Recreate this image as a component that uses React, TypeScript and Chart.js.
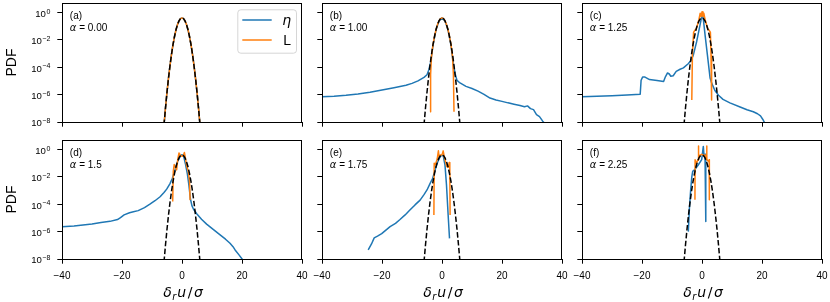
import React, { useEffect, useRef } from "react";
import { Chart, registerables } from "chart.js";
Chart.register(...registerables);

const ETA_COLOR = "#1f77b4";
const L_COLOR = "#ff7f0e";
const SANS = "'Liberation Sans', Arial, sans-serif";
const MATH = "'DejaVu Sans', sans-serif";

const xTickValues = [-40, -20, 0, 20, 40];
const xTickLabels = ["−40", "−20", "0", "20", "40"];
const yTickValues = [1e-8, 1e-6, 1e-4, 1e-2, 1];
const yTickBase = "10";
const yTickExponents = ["−8", "−6", "−4", "−2", "0"];

const panelTags = ["(a)", "(b)", "(c)", "(d)", "(e)", "(f)"];
const alphaValues = ["0.00", "1.00", "1.25", "1.5", "1.75", "2.25"];
const seriesNames = ["η", "L"];

// reference Gaussian (dashed)
const gaussX = [-6, -5.5, -5, -4.5, -4, -3.5, -3, -2.5, -2, -1.5, -1, -0.5, 0, 0.5, 1, 1.5, 2, 2.5, 3, 3.5, 4, 4.5, 5, 5.5, 6];
const gaussY = [6.1e-9, 1.08e-7, 1.49e-6, 1.6e-5, 1.34e-4, 8.73e-4, 4.43e-3, 1.75e-2, 5.4e-2, 0.13, 0.242, 0.352, 0.399, 0.352, 0.242, 0.13, 5.4e-2, 1.75e-2, 4.43e-3, 8.73e-4, 1.34e-4, 1.6e-5, 1.49e-6, 1.08e-7, 6.1e-9];

// (a) alpha = 0.00
const etaX_a = [-6, -5.5, -5, -4.5, -4, -3.5, -3, -2.5, -2, -1.5, -1, -0.5, 0, 0.5, 1, 1.5, 2, 2.5, 3, 3.5, 4, 4.5, 5, 5.5, 6];
const etaY_a = [6.1e-9, 1.1e-7, 1.5e-6, 1.6e-5, 1.34e-4, 8.7e-4, 4.4e-3, 1.75e-2, 5.4e-2, 0.13, 0.242, 0.352, 0.399, 0.352, 0.242, 0.13, 5.4e-2, 1.75e-2, 4.4e-3, 8.7e-4, 1.34e-4, 1.6e-5, 1.5e-6, 1.1e-7, 6.1e-9];
const lX_a = [-6, -5.5, -5, -4.5, -4, -3.5, -3, -2.5, -2, -1.5, -1, -0.5, 0, 0.5, 1, 1.5, 2, 2.5, 3, 3.5, 4, 4.5, 5, 5.5, 6];
const lY_a = [6.1e-9, 1.1e-7, 1.5e-6, 1.6e-5, 1.34e-4, 8.7e-4, 4.4e-3, 1.75e-2, 5.4e-2, 0.13, 0.242, 0.352, 0.399, 0.352, 0.242, 0.13, 5.4e-2, 1.75e-2, 4.4e-3, 8.7e-4, 1.34e-4, 1.6e-5, 1.5e-6, 1.1e-7, 6.1e-9];

// (b) alpha = 1.00
const etaX_b = [-40, -36, -32, -28, -24, -20, -16, -12, -10, -8, -6, -5, -4.4, -3.8, -3, -2, -1, 0, 1, 2, 3, 3.8, 4.4, 5, 6, 8, 10, 12, 14, 16, 18, 20, 22, 24, 26, 27.5, 28.5, 29.5, 30.5, 31.5, 32.5, 33.5, 34.2];
const etaY_b = [6.9e-7, 7.6e-7, 8.9e-7, 1.1e-6, 1.5e-6, 2.2e-6, 3.2e-6, 4.8e-6, 6.6e-6, 1.0e-5, 1.8e-5, 2.8e-5, 6.3e-5, 2.2e-4, 4.0e-3, 5.4e-2, 0.24, 0.4, 0.24, 5.4e-2, 4.0e-3, 1.6e-4, 3.2e-5, 1.1e-5, 7.1e-6, 4.0e-6, 2.8e-6, 1.8e-6, 1.05e-6, 5.6e-7, 4.0e-7, 3.2e-7, 2.5e-7, 2.0e-7, 1.6e-7, 1.3e-7, 1.5e-7, 9.5e-8, 8.0e-8, 3.5e-8, 2.5e-8, 1.2e-8, 8.0e-9];
const lX_b = [-4.0, -3.8, -3.5, -3, -2.5, -2, -1.5, -1, -0.5, 0, 0.5, 1, 1.5, 2, 2.5, 3, 3.5, 3.8, 4.0];
const lY_b = [5.6e-8, 3e-5, 6e-4, 4.4e-3, 1.75e-2, 5.4e-2, 0.13, 0.24, 0.35, 0.4, 0.35, 0.24, 0.13, 5.4e-2, 1.75e-2, 4.4e-3, 6e-4, 3e-5, 5.6e-8];

// (c) alpha = 1.25
const etaX_c = [-40, -35, -30, -25, -20.6, -20.3, -19.8, -19, -17.5, -15, -12.8, -12.2, -11.5, -10.9, -10.4, -9.6, -8.6, -7.3, -6.2, -4.6, -3.6, -2.9, -1.8, -0.7, 0.15, 0.5, 1, 1.8, 2.7, 3.3, 4.3, 5.5, 7, 9.3, 12.7, 15, 17.1, 18.5, 19.5, 20.4, 21.2];
const etaY_c = [6.9e-7, 7.6e-7, 8.3e-7, 9.3e-7, 1.07e-6, 1.12e-5, 1.9e-5, 1.9e-5, 1.26e-5, 1.07e-5, 8.9e-6, 2.0e-5, 3.8e-5, 3.2e-5, 2.2e-5, 2.4e-5, 5.0e-5, 7.1e-5, 8.9e-5, 1.8e-4, 3.2e-4, 7.6e-4, 7.1e-3, 0.11, 0.89, 0.25, 2.5e-2, 7.9e-4, 1.6e-5, 6.3e-6, 2.0e-6, 8.9e-7, 4.5e-7, 2.5e-7, 1.26e-7, 7.9e-8, 5.6e-8, 4.0e-8, 2.8e-8, 1.4e-8, 6.3e-9];
const lX_c = [-3.4, -3.2, -2.8, -2.4, -2.0, -1.5, -1.0, -0.6, -0.3, 0, 0.3, 0.6, 1.0, 1.5, 2.0, 2.4, 2.8, 3.0, 3.2];
const lY_c = [4.0e-7, 7.9e-4, 3.5e-2, 5.0e-2, 5.6e-2, 0.126, 0.32, 0.89, 0.5, 1.12, 0.5, 0.89, 0.32, 0.126, 5.6e-2, 5.0e-2, 3.5e-2, 7.9e-4, 4.0e-7];

// (d) alpha = 1.5
const etaX_d = [-40, -36, -33, -30, -27, -24, -21.5, -20.5, -19.3, -17.5, -16.2, -14.6, -12.5, -10.7, -9, -7.3, -6, -5.1, -4, -3.2, -2.5, -1.5, -0.5, 0, 0.5, 1.2, 1.8, 2.3, 2.8, 3.3, 3.8, 4.9, 6.5, 8.2, 10.5, 12.7, 14.5, 16, 17, 17.7, 19, 19.9, 20.5];
const etaY_d = [2.3e-6, 2.6e-6, 3.1e-6, 3.6e-6, 4.6e-6, 5.6e-6, 7.6e-6, 1.05e-5, 1.66e-5, 2.4e-5, 2.8e-5, 3.4e-5, 5.6e-5, 1.0e-4, 1.8e-4, 3.5e-4, 7.1e-4, 1.26e-3, 3.2e-3, 7.9e-3, 2.5e-2, 0.126, 0.35, 0.41, 0.35, 7.9e-2, 1.6e-2, 2.5e-3, 2.5e-4, 7.9e-5, 4.5e-5, 2.0e-5, 7.9e-6, 3.5e-6, 1.4e-6, 5.8e-7, 2.8e-7, 1.4e-7, 7.9e-8, 4.6e-8, 2.0e-8, 1.1e-8, 7.9e-9];
const lX_d = [-3.1, -2.9, -2.6, -2.2, -1.8, -1.4, -1.0, -0.5, 0.1, 0.5, 0.8, 1.2, 1.6, 2.1, 2.5, 2.7];
const lY_d = [1.6e-4, 2.5e-2, 7.9e-2, 5.0e-2, 3.2e-2, 0.2, 0.56, 0.35, 0.32, 0.4, 0.6, 0.2, 5.6e-2, 2.5e-2, 5.0e-3, 2.0e-4];

// (e) alpha = 1.75
const etaX_e = [-24.6, -23.5, -22.6, -21.5, -20.1, -18.5, -17.3, -15.5, -14, -12.3, -10.7, -9, -7.3, -6, -5, -4, -3.1, -2.3, -1.5, -0.8, -0.2, 0.4, 1.0, 1.5, 2.0, 2.5];
const etaY_e = [4.6e-8, 1.26e-7, 3.5e-7, 4.7e-7, 7.1e-7, 1.4e-6, 2.3e-6, 4.0e-6, 7.6e-6, 1.66e-5, 3.8e-5, 8.9e-5, 2.0e-4, 5.0e-4, 1.1e-3, 3.2e-3, 7.9e-3, 3.2e-2, 0.11, 0.25, 0.38, 0.35, 7.1e-2, 2.5e-3, 2.5e-5, 3.2e-7];
const lX_e = [-2.7, -2.6, -2.2, -1.6, -1.2, -1.0, -0.5, 0.0, 0.4, 0.7, 1.2, 1.6, 2.1, 2.4, 2.6, 2.7];
const lY_e = [1.66e-5, 0.1, 7.9e-2, 0.2, 0.79, 0.32, 0.4, 0.4, 0.79, 0.32, 0.126, 5.6e-2, 5.0e-2, 0.11, 5.0e-2, 1.66e-5];

// (f) alpha = 2.25
const etaX_f = [-4.56, -4.2, -3.78, -3.4, -3.1, -2.3, -1.2, -0.1, 0.44, 0.7, 1.0, 1.2, 1.33];
const etaY_f = [1.0e-6, 5.0e-5, 1.1e-3, 1.0e-2, 2.5e-2, 3.6e-2, 7.6e-2, 0.18, 1.66, 0.32, 0.45, 0.25, 5.4e-6];
const lX_f = [-2.35, -2.3, -1.9, -1.3, -1.2, -1.1, -0.5, 0, 0.5, 1.0, 1.45, 1.55, 1.65, 2.3, 2.4, 2.45];
const lY_f = [2.1e-4, 0.18, 0.1, 0.18, 1.78, 0.32, 0.4, 0.45, 0.35, 0.4, 0.25, 1.78, 0.18, 0.126, 0.18, 2.1e-4];

const etaSeries = [[etaX_a, etaY_a], [etaX_b, etaY_b], [etaX_c, etaY_c], [etaX_d, etaY_d], [etaX_e, etaY_e], [etaX_f, etaY_f]];
const lSeries = [[lX_a, lY_a], [lX_b, lY_b], [lX_c, lY_c], [lX_d, lY_d], [lX_e, lY_e], [lX_f, lY_f]];

const AX_LEFT = [62, 322, 582];
const AX_TOP = [3, 140];
const AX_W = 240;
const TICK_LEN = 4.7;

function toPts(xs: number[], ys: number[]) {
  return xs.map((x, i) => ({ x, y: ys[i] }));
}

const framePlugin = {
  id: "frame",
  afterDraw(chart: any) {
    const { ctx, chartArea } = chart;
    const l = Math.round(chartArea.left) + 0.5;
    const t = Math.round(chartArea.top) + 0.5;
    const r = Math.round(chartArea.right) - 0.5;
    const b = Math.round(chartArea.bottom) + 0.5;
    ctx.save();
    ctx.strokeStyle = "#000";
    ctx.lineWidth = 1;
    ctx.strokeRect(l, t, r - l, b - t);
    ctx.restore();
  },
};

// y tick labels "10^n" drawn at the log scale's own tick positions
const yLabelPlugin = {
  id: "yPowerLabels",
  afterDraw(chart: any) {
    const { ctx } = chart;
    const s = chart.scales.y;
    const right = s.right - TICK_LEN - 7;
    ctx.save();
    ctx.fillStyle = "#000";
    ctx.textAlign = "left";
    ctx.textBaseline = "alphabetic";
    s.ticks.forEach((tk: any) => {
      const i = yTickValues.findIndex((t) => Math.abs(Math.log10(t) - Math.log10(tk.value)) < 1e-6);
      if (i < 0) return;
      const y = s.getPixelForValue(tk.value);
      ctx.font = `7px ${SANS}`;
      const ew = ctx.measureText(yTickExponents[i]).width;
      ctx.font = `9.6px ${SANS}`;
      const bw = ctx.measureText(yTickBase).width;
      const x0 = right - ew - bw - 0.5;
      ctx.fillText(yTickBase, x0, y + 4.4);
      ctx.font = `7px ${SANS}`;
      ctx.fillText(yTickExponents[i], x0 + bw + 0.5, y + 1.1);
    });
    ctx.restore();
  },
};

function makeTextPlugin(index: number) {
  return {
    id: "panelText",
    afterDraw(chart: any) {
      const { ctx, chartArea } = chart;
      const x = chartArea.left + 7.8;
      ctx.save();
      ctx.fillStyle = "#000";
      ctx.textBaseline = "alphabetic";
      ctx.textAlign = "left";
      ctx.font = `10px ${SANS}`;
      ctx.fillText(panelTags[index], x, chartArea.top + 16.3);
      ctx.font = `italic 10px ${MATH}`;
      ctx.fillText("α", x, chartArea.top + 28);
      const w = ctx.measureText("α").width;
      ctx.font = `10px ${SANS}`;
      ctx.fillText(" = " + alphaValues[index], x + w, chartArea.top + 28);
      ctx.restore();
    },
  };
}

const legendPlugin = {
  id: "legendBox",
  afterDraw(chart: any) {
    const { ctx, chartArea } = chart;
    const bw = 58.7, bh = 43.4;
    const bx = chartArea.right - 6 - bw;
    const by = chartArea.top + 6.3;
    ctx.save();
    ctx.beginPath();
    ctx.roundRect(bx + 0.5, by + 0.5, bw, bh, 3);
    ctx.fillStyle = "rgba(255,255,255,0.8)";
    ctx.fill();
    ctx.strokeStyle = "rgba(204,204,204,0.8)";
    ctx.lineWidth = 1;
    ctx.stroke();
    const colors = [ETA_COLOR, L_COLOR];
    const rowsY = [by + 10.7, by + 30.7];
    for (let i = 0; i < 2; i++) {
      ctx.beginPath();
      ctx.strokeStyle = colors[i];
      ctx.lineWidth = 1.5;
      ctx.moveTo(bx + 5, rowsY[i]);
      ctx.lineTo(bx + 34.4, rowsY[i]);
      ctx.stroke();
    }
    ctx.fillStyle = "#000";
    ctx.textBaseline = "alphabetic";
    ctx.font = `italic 14px ${MATH}`;
    ctx.fillText(seriesNames[0], bx + 45, by + 15.2);
    ctx.font = `14px ${SANS}`;
    ctx.fillText(seriesNames[1], bx + 46, by + 35.7);
    ctx.restore();
  },
};

const xLabelPlugin = {
  id: "xLabel",
  afterDraw(chart: any) {
    const { ctx, chartArea } = chart;
    const cx = (chartArea.left + chartArea.right) / 2 + 1;
    const base = chartArea.bottom + 37.5;
    const parts = [
      { t: "δ", f: `italic 14px ${MATH}`, dy: 0, gap: 0 },
      { t: "r", f: `italic 9.8px ${MATH}`, dy: 3, gap: 0.5 },
      { t: "u", f: `italic 14px ${MATH}`, dy: 0, gap: 1 },
      { t: "/", f: `14px ${MATH}`, dy: 0, gap: 1.5 },
      { t: "σ", f: `italic 14px ${MATH}`, dy: 0, gap: 1.5 },
    ];
    ctx.save();
    let total = 0;
    const widths: number[] = [];
    for (const p of parts) {
      ctx.font = p.f;
      const w = ctx.measureText(p.t).width;
      widths.push(w);
      total += w + p.gap;
    }
    let x = cx - total / 2;
    ctx.fillStyle = "#000";
    ctx.textBaseline = "alphabetic";
    ctx.textAlign = "left";
    parts.forEach((p, i) => {
      x += p.gap;
      ctx.font = p.f;
      ctx.fillText(p.t, x, base + p.dy);
      x += widths[i];
    });
    ctx.restore();
  },
};

function Panel({ index }: { index: number }) {
  const ref = useRef<HTMLCanvasElement>(null);
  const col = index % 3;
  const row = Math.floor(index / 3);
  const canvasLeft = col === 0 ? 0 : AX_LEFT[col] - 20;
  const yAxisW = AX_LEFT[col] - canvasLeft;
  const canvasW = yAxisW + AX_W + 8;
  const canvasTop = row === 0 ? 0 : 130;
  const padTop = AX_TOP[row] - canvasTop;
  const canvasH = row === 0 ? 132 : 172;
  const xAxisH = row === 0 ? 10 : 43;

  useEffect(() => {
    const [ex, ey] = etaSeries[index];
    const [lx, ly] = lSeries[index];
    const plugins: any[] = [framePlugin, makeTextPlugin(index)];
    if (col === 0) plugins.push(yLabelPlugin);
    if (index === 0) plugins.push(legendPlugin);
    if (row === 1) plugins.push(xLabelPlugin);
    const gridCfg = { display: true, drawOnChartArea: false, drawTicks: true, tickLength: TICK_LEN, color: "#000", lineWidth: 1 };
    const chart = new Chart(ref.current as HTMLCanvasElement, {
      type: "line",
      data: {
        datasets: [
          { label: "Gaussian", data: toPts(gaussX, gaussY), borderColor: "#000", borderWidth: 1.5, borderDash: [5.5, 2.4], pointRadius: 0, fill: false, tension: 0 },
          { label: seriesNames[1], data: toPts(lx, ly), borderColor: L_COLOR, borderWidth: 1.5, pointRadius: 0, fill: false, tension: 0, borderJoinStyle: "round" },
          { label: seriesNames[0], data: toPts(ex, ey), borderColor: ETA_COLOR, borderWidth: 1.5, pointRadius: 0, fill: false, tension: 0, borderJoinStyle: "round" },
        ],
      } as any,
      options: {
        responsive: false,
        maintainAspectRatio: false,
        animation: false,
        events: [],
        devicePixelRatio: 1,
        layout: { padding: { top: padTop, right: 8, left: 0, bottom: 0 } },
        plugins: { legend: { display: false }, tooltip: { enabled: false } },
        scales: {
          x: {
            type: "linear",
            position: "bottom",
            min: -40,
            max: 40,
            afterBuildTicks: (s: any) => { s.ticks = xTickValues.map((v) => ({ value: v })); },
            afterFit: (s: any) => { s.height = xAxisH; s.paddingLeft = 0; s.paddingRight = 0; },
            ticks: {
              display: row === 1,
              autoSkip: false,
              maxRotation: 0,
              padding: 6.5,
              color: "#000",
              font: { family: SANS, size: 10 },
              callback: (v: any) => { const i = xTickValues.indexOf(Number(v)); return i >= 0 ? xTickLabels[i] : ""; },
            },
            grid: gridCfg,
            border: { display: true, color: "#000", width: 1 },
          },
          y: {
            type: "logarithmic",
            position: "left",
            min: 1e-8,
            max: 4.9,
            afterBuildTicks: (s: any) => { s.ticks = yTickValues.map((v) => ({ value: v })); },
            afterFit: (s: any) => { s.width = yAxisW; s.paddingTop = 0; s.paddingBottom = 0; },
            ticks: { display: false, autoSkip: false },
            title: { display: col === 0, text: "PDF", color: "#000", font: { family: SANS, size: 14 }, padding: { top: 3.3, bottom: 0 } },
            grid: gridCfg,
            border: { display: true, color: "#000", width: 1 },
          },
        },
      } as any,
      plugins,
    });
    return () => chart.destroy();
  }, []);

  return (
    <canvas
      ref={ref}
      width={canvasW}
      height={canvasH}
      style={{ position: "absolute", left: canvasLeft, top: canvasTop, width: canvasW, height: canvasH }}
    />
  );
}

export default function App() {
  return (
    <div style={{ position: "absolute", left: 0, top: 0, width: 830, height: 302, overflow: "hidden", background: "#fff" }}>
      {[0, 1, 2, 3, 4, 5].map((i) => (
        <Panel key={i} index={i} />
      ))}
    </div>
  );
}
